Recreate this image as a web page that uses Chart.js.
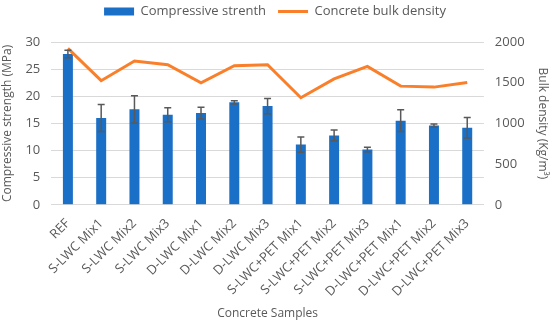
<!DOCTYPE html>
<html>
<head>
<meta charset="utf-8">
<script src="https://cdn.jsdelivr.net/npm/chart.js@4/dist/chart.umd.min.js"></script>
<style>
  html, body { margin: 0; padding: 0; background: #fff; }
  #wrap { width: 550px; height: 321px; }
</style>
</head>
<body>
<div id="wrap"><canvas id="chart"></canvas></div>
<script>
const SAMPLES = ['REF', 'S-LWC Mix1', 'S-LWC Mix2', 'S-LWC Mix3', 'D-LWC Mix1', 'D-LWC Mix2', 'D-LWC Mix3',
  'S-LWC+PET Mix1', 'S-LWC+PET Mix2', 'S-LWC+PET Mix3', 'D-LWC+PET Mix1', 'D-LWC+PET Mix2', 'D-LWC+PET Mix3'];
const STRENGTH     = [27.8, 16.0, 17.6, 16.6, 16.9, 18.9, 18.2, 11.1, 12.8, 10.2, 15.5, 14.6, 14.2];
const STRENGTH_ERR = [0.7, 2.5, 2.5, 1.3, 1.1, 0.3, 1.4, 1.4, 1.0, 0.4, 2.0, 0.3, 1.9];
const DENSITY      = [1921, 1525, 1766, 1721, 1500, 1708, 1721, 1316, 1546, 1700, 1458, 1446, 1504];

const GREY = '#595959';
const FONT = "'Open Sans', sans-serif";
Chart.defaults.color = GREY;
Chart.defaults.font.family = FONT;
Chart.defaults.font.size = 12;

// error bars on the strength bars
const errorBars = {
  id: 'errorBars',
  afterDatasetsDraw(chart) {
    const meta = chart.getDatasetMeta(0);
    const ys = chart.scales.y;
    const ctx = chart.ctx;
    ctx.save();
    ctx.strokeStyle = GREY;
    ctx.lineWidth = 1.5;
    meta.data.forEach((bar, i) => {
      const top = ys.getPixelForValue(STRENGTH[i] + STRENGTH_ERR[i]);
      const bot = ys.getPixelForValue(STRENGTH[i] - STRENGTH_ERR[i]);
      ctx.beginPath();
      ctx.moveTo(bar.x, top); ctx.lineTo(bar.x, bot);
      ctx.moveTo(bar.x - 3.5, top); ctx.lineTo(bar.x + 3.5, top);
      ctx.moveTo(bar.x - 3.5, bot); ctx.lineTo(bar.x + 3.5, bot);
      ctx.stroke();
    });
    ctx.restore();
  }
};

// extra room under the legend
const legendGap = {
  id: 'legendGap',
  beforeInit(chart) {
    const fit = chart.legend.fit;
    chart.legend.fit = function () {
      fit.call(this);
      this.height += 14;
    };
  }
};

new Chart(document.getElementById('chart'), {
  data: {
    labels: SAMPLES,
    datasets: [
      {
        type: 'bar',
        label: 'Compressive strenth',
        data: STRENGTH,
        backgroundColor: '#1A6FC6',
        borderWidth: 0,
        barPercentage: 0.3,
        categoryPercentage: 1,
        pointStyle: 'rect',
        yAxisID: 'y',
        order: 1
      },
      {
        type: 'line',
        label: 'Concrete bulk density',
        data: DENSITY,
        borderColor: '#FA7F2A',
        backgroundColor: '#FA7F2A',
        borderWidth: 3,
        pointRadius: 0,
        tension: 0,
        pointStyle: 'line',
        yAxisID: 'y1',
        order: 0
      }
    ]
  },
  options: {
    responsive: true,
    maintainAspectRatio: false,
    animation: false,
    layout: { padding: { left: 0, right: 0, top: -7, bottom: 0 } },
    plugins: {
      tooltip: { enabled: false },
      legend: {
        position: 'top',
        labels: {
          usePointStyle: true,
          pointStyleWidth: 30,
          boxHeight: 8,
          padding: 12,
          color: GREY,
          font: { size: 13 },
          sort: (a, b) => a.datasetIndex - b.datasetIndex
        }
      }
    },
    scales: {
      x: {
        grid: { display: false },
        border: { display: true, color: '#D9D9D9', width: 1 },
        ticks: { color: GREY, font: { size: 13 }, minRotation: 45, maxRotation: 45, padding: 3 },
        title: { display: true, text: 'Concrete Samples', color: GREY, font: { size: 12 }, padding: { top: 4, bottom: 0 } }
      },
      y: {
        position: 'left',
        min: 0, max: 30,
        ticks: { stepSize: 5, color: GREY, font: { size: 13 }, padding: 11 },
        grid: { color: '#D9D9D9', lineWidth: 1, drawTicks: false },
        border: { display: false },
        title: { display: true, text: 'Compressive strength (MPa)', color: GREY, font: { size: 12 }, padding: 0 }
      },
      y1: {
        position: 'right',
        min: 0, max: 2000,
        ticks: { stepSize: 500, color: GREY, font: { size: 13 }, padding: 11, callback: v => String(v) },
        grid: { drawOnChartArea: false, drawTicks: false },
        border: { display: false },
        title: { display: true, text: 'Bulk density (Kg/m³)', color: GREY, font: { size: 12 }, padding: 0 }
      }
    }
  },
  plugins: [errorBars, legendGap]
});
</script>
</body>
</html>
